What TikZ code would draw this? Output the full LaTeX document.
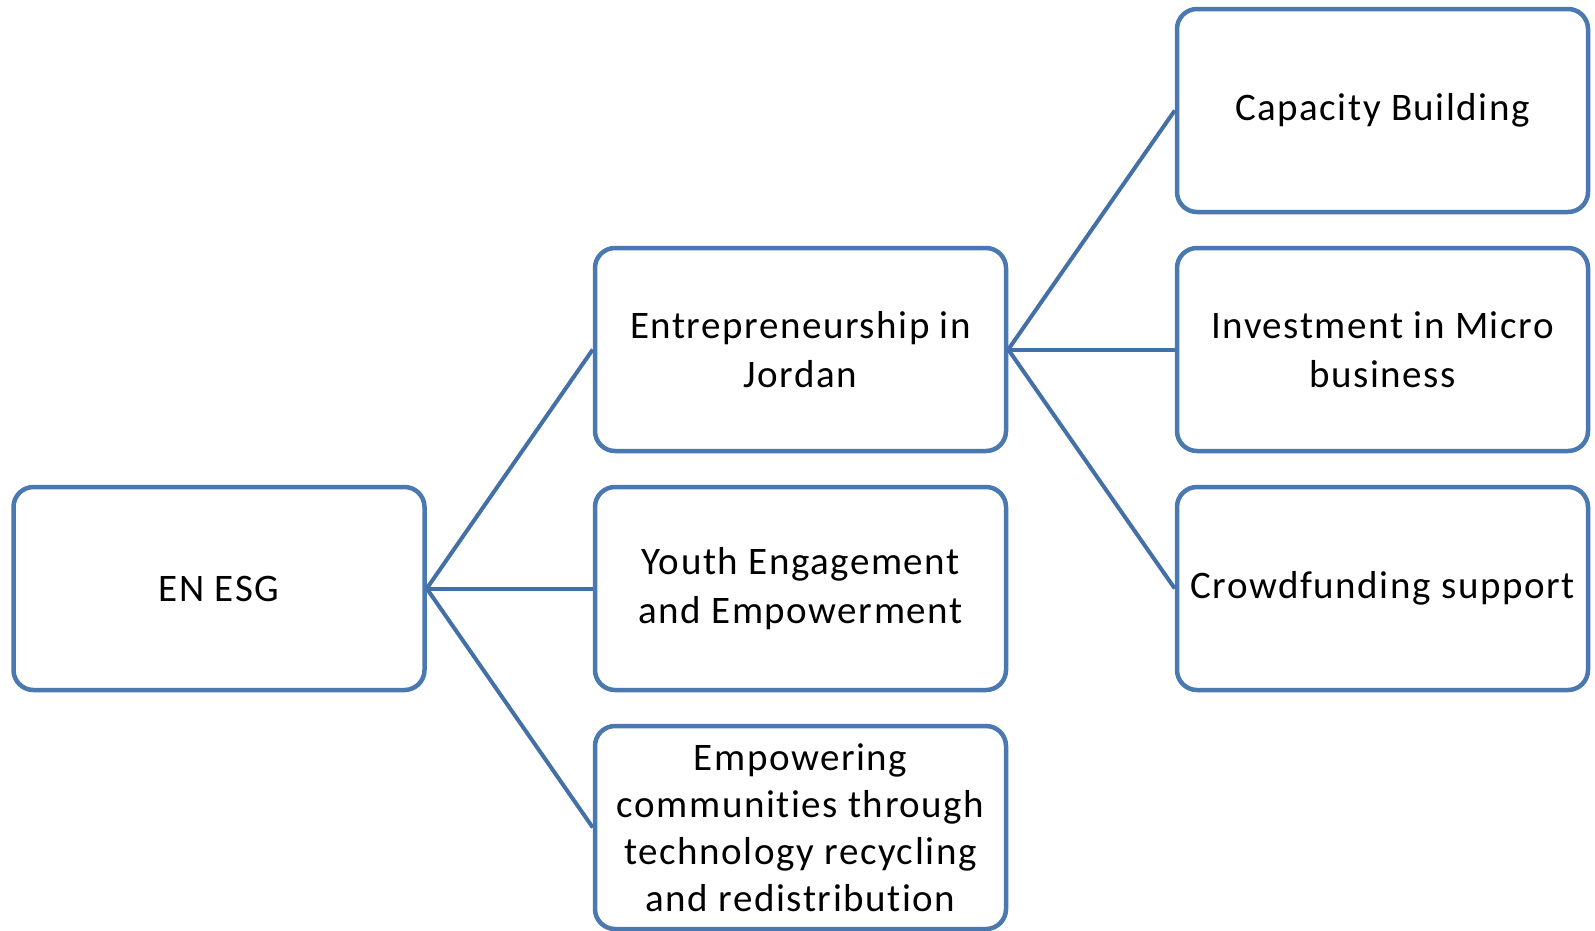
\documentclass[tikz,border=0pt]{standalone}
\usepackage{fontspec}
\setmainfont{Carlito}[LetterSpace=4, Ligatures=NoCommon]
\definecolor{boxblue}{RGB}{74,120,176}
\definecolor{linkblue}{RGB}{68,112,168}
\begin{document}
\begin{tikzpicture}[x=1pt,y=-1pt,
  item/.style={draw=boxblue, line width=4.5pt, rounded corners=20pt, fill=white,
    minimum width=411pt, minimum height=203pt, align=center, inner sep=0pt,
    font=\fontsize{39}{49}\selectfont},
  tallitem/.style={item, font=\fontsize{39}{47}\selectfont},
  link/.style={draw=linkblue, line width=4pt}]
\useasboundingbox (0,0) rectangle (1595,930);

% root
\node[item] (root) at (219,588.5) {EN ESG};

% second level
\node[item] (entre) at (800.5,349.5) {Entrepreneurship in\\Jordan};
\node[item] (youth) at (800.5,588.5) {Youth Engagement\\and Empowerment};
\node[tallitem] (recyc) at (800.5,827.5) {Empowering\\communities through\\technology recycling\\and redistribution};

% third level
\node[item] (cap)    at (1382.5,110.5) {Capacity Building};
\node[item] (invest) at (1382.5,349.5) {Investment in Micro\\business};
\node[item] (crowd)  at (1382.5,588.5) {Crowdfunding support};

% tree connectors
\draw[link] (root.east) -- (entre.west);
\draw[link] (root.east) -- (youth.west);
\draw[link] (root.east) -- (recyc.west);
\draw[link] (entre.east) -- (cap.west);
\draw[link] (entre.east) -- (invest.west);
\draw[link] (entre.east) -- (crowd.west);
\end{tikzpicture}
\end{document}
